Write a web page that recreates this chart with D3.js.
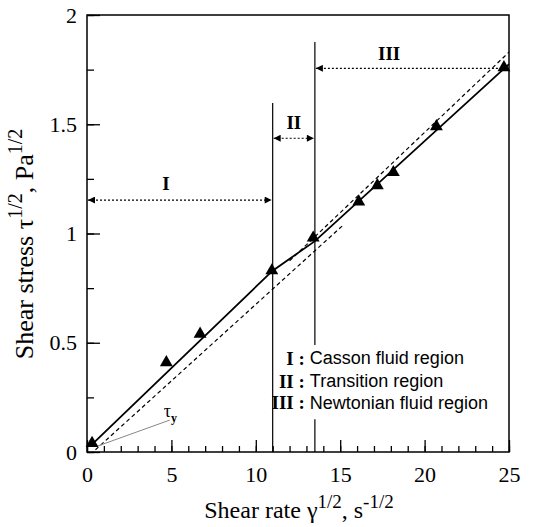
<!DOCTYPE html>
<html>
<head>
<meta charset="utf-8">
<script src="https://cdn.jsdelivr.net/npm/d3@7"></script>
<style>
  body { margin: 0; background: #fff; }
  svg { display: block; }
</style>
</head>
<body>
<div id="chart"></div>
<script>
// measured points (sqrt shear rate, sqrt shear stress)
const pointX = [0.3, 4.7, 6.7, 10.95, 13.4, 16.1, 17.2, 18.15, 20.7, 24.7];
const pointY = [0.04, 0.41, 0.54, 0.83, 0.98, 1.145, 1.22, 1.28, 1.49, 1.76];

// solid fitted curve (broken line)
const fitX = [0.3, 11, 13.5, 25];
const fitY = [0.035, 0.83, 0.965, 1.775];

// dashed model lines
const cassonX = [0.5, 15.2];
const cassonY = [0.01, 1.04];
const newtonX = [12, 25];
const newtonY = [0.875, 1.83];

// region boundaries and arrows
const bounds = [11, 13.5];
const regionNames = ["I", "II", "III"];
const regionFrom = [0, 11, 13.5];
const regionTo = [11, 13.5, 25];
const regionArrowY = [1.153, 1.436, 1.756];
const regionLabelX = [4.68, 12.25, 17.9];
const regionLabelY = [1.23, 1.51, 1.826];
const legendText = ["Casson fluid region", "Transition region", "Newtonian fluid region"];

const xTicks = [0, 5, 10, 15, 20, 25];
const yTicks = [0, 0.5, 1, 1.5, 2];
const yTickLabels = ["0", "0.5", "1", "1.5", "2"];

const width = 542, height = 527;
const marginTop = 15, marginRight = 33, marginBottom = 75, marginLeft = 87;
const serif = "'Liberation Serif', 'Times New Roman', serif";
const sans = "'Liberation Sans', Arial, sans-serif";

const x = d3.scaleLinear().domain([0, 25]).range([marginLeft, width - marginRight]);
const y = d3.scaleLinear().domain([0, 2]).range([height - marginBottom, marginTop]);

const svg = d3.select("#chart").append("svg")
    .attr("width", width)
    .attr("height", height);

const defs = svg.append("defs");
defs.append("marker")
    .attr("id", "head")
    .attr("viewBox", "0 0 10 10")
    .attr("refX", 10).attr("refY", 5)
    .attr("markerWidth", 8).attr("markerHeight", 7)
    .attr("markerUnits", "userSpaceOnUse")
    .attr("orient", "auto-start-reverse")
    .append("path")
    .attr("d", "M0,0L10,5L0,10Z")
    .attr("fill", "#000");

// ticks (inward)
const xMinor = d3.range(0, 26, 1);
const yMinor = d3.range(0, 2.01, 0.25);

svg.append("g")
    .attr("transform", `translate(0,${y(0)})`)
    .call(d3.axisBottom(x).tickValues(xMinor).tickSize(-6).tickFormat(""))
    .call(g => g.select(".domain").remove())
    .selectAll("line").attr("stroke-width", 1.3);

svg.append("g")
    .attr("transform", `translate(0,${y(0)})`)
    .call(d3.axisBottom(x).tickValues(xTicks).tickSize(-12).tickPadding(14))
    .call(g => g.select(".domain").remove())
    .call(g => g.selectAll("line").attr("stroke-width", 1.3))
    .call(g => g.selectAll("text")
        .attr("font-family", serif).attr("font-size", 22).attr("fill", "#000"));

svg.append("g")
    .attr("transform", `translate(${x(0)},0)`)
    .call(d3.axisLeft(y).tickValues(yMinor).tickSize(-7).tickFormat(""))
    .call(g => g.select(".domain").remove())
    .selectAll("line").attr("stroke-width", 1.3);

svg.append("g")
    .attr("transform", `translate(${x(0)},0)`)
    .call(d3.axisLeft(y).tickValues(yTicks).tickSize(-13).tickPadding(10)
        .tickFormat((d, i) => yTickLabels[i]))
    .call(g => g.select(".domain").remove())
    .call(g => g.selectAll("line").attr("stroke-width", 1.3))
    .call(g => g.selectAll("text")
        .attr("font-family", serif).attr("font-size", 22).attr("fill", "#000"));

// frame
svg.append("rect")
    .attr("x", x(0)).attr("y", y(2))
    .attr("width", x(25) - x(0)).attr("height", y(0) - y(2))
    .attr("fill", "none").attr("stroke", "#000").attr("stroke-width", 1.5);

// region boundaries
svg.append("line")
    .attr("x1", x(bounds[0])).attr("x2", x(bounds[0]))
    .attr("y1", y(1.597)).attr("y2", y(0))
    .attr("stroke", "#000").attr("stroke-width", 1.2);
svg.append("line")
    .attr("x1", x(bounds[1])).attr("x2", x(bounds[1]))
    .attr("y1", y(1.876)).attr("y2", y(0.49))
    .attr("stroke", "#000").attr("stroke-width", 1.2);
svg.append("line")
    .attr("x1", x(bounds[1])).attr("x2", x(bounds[1]))
    .attr("y1", y(0.15)).attr("y2", y(0))
    .attr("stroke", "#000").attr("stroke-width", 1.2);

// region arrows
regionNames.forEach((name, i) => {
    svg.append("line")
        .attr("x1", x(regionFrom[i]) + 1).attr("x2", x(regionTo[i]) - 1)
        .attr("y1", y(regionArrowY[i])).attr("y2", y(regionArrowY[i]))
        .attr("stroke", "#000").attr("stroke-width", 1.2)
        .attr("stroke-dasharray", "2,2")
        .attr("marker-start", "url(#head)")
        .attr("marker-end", "url(#head)");
    svg.append("text")
        .attr("x", x(regionLabelX[i])).attr("y", y(regionLabelY[i]))
        .attr("dy", "0.35em")
        .attr("text-anchor", "middle")
        .attr("font-family", serif).attr("font-weight", "bold").attr("font-size", 19)
        .text(name);
});

// lines
const line = d3.line().x(d => x(d[0])).y(d => y(d[1]));

svg.append("path")
    .datum(d3.zip(cassonX, cassonY))
    .attr("fill", "none").attr("stroke", "#000").attr("stroke-width", 1.2)
    .attr("stroke-dasharray", "4,3")
    .attr("d", line);

svg.append("path")
    .datum(d3.zip(newtonX, newtonY))
    .attr("fill", "none").attr("stroke", "#000").attr("stroke-width", 1.2)
    .attr("stroke-dasharray", "4,3")
    .attr("d", line);

svg.append("path")
    .datum(d3.zip(fitX, fitY))
    .attr("fill", "none").attr("stroke", "#000").attr("stroke-width", 1.8)
    .attr("d", line);

// yield stress pointer
svg.append("line")
    .attr("x1", x(0.55)).attr("y1", y(0.025))
    .attr("x2", x(4.9)).attr("y2", y(0.146))
    .attr("stroke", "#888").attr("stroke-width", 1);
const tau = svg.append("text")
    .attr("x", x(4.55)).attr("y", y(0.16))
    .attr("font-family", serif).attr("font-size", 18);
tau.append("tspan").text("τ");
tau.append("tspan").attr("font-size", 12).attr("dy", 5).attr("font-weight", "bold").text("y");

// points
svg.selectAll(".pt")
    .data(d3.zip(pointX, pointY))
    .join("path")
    .attr("class", "pt")
    .attr("transform", d => `translate(${x(d[0])},${y(d[1])})`)
    .attr("d", d3.symbol(d3.symbolTriangle, 72))
    .attr("fill", "#000");

// legend
const legendY = [0.43, 0.325, 0.225];
legendText.forEach((t, i) => {
    svg.append("text")
        .attr("x", x(12.9)).attr("y", y(legendY[i]))
        .attr("dy", "0.35em").attr("text-anchor", "end")
        .attr("font-family", serif).attr("font-weight", "bold").attr("font-size", 19)
        .text(regionNames[i] + " :");
    svg.append("text")
        .attr("x", x(13.2)).attr("y", y(legendY[i]))
        .attr("dy", "0.35em")
        .attr("font-family", sans).attr("font-size", 18)
        .text(t);
});

// axis titles
const xt = svg.append("text")
    .attr("x", (x(0) + x(25)) / 2 + 1).attr("y", height - 9)
    .attr("text-anchor", "middle")
    .attr("font-family", serif).attr("font-size", 24);
xt.append("tspan").text("Shear rate γ");
xt.append("tspan").attr("font-size", 19).attr("dy", -10).text("1/2");
xt.append("tspan").attr("dy", 10).text(", s");
xt.append("tspan").attr("font-size", 19).attr("dy", -10).text("-1/2");

const yt = svg.append("text")
    .attr("transform", `translate(33,244) rotate(-90)`)
    .attr("text-anchor", "middle")
    .attr("font-family", serif).attr("font-size", 26);
yt.append("tspan").text("Shear stress τ");
yt.append("tspan").attr("font-size", 20).attr("dy", -11).text("1/2");
yt.append("tspan").attr("dy", 11).text(", Pa");
yt.append("tspan").attr("font-size", 20).attr("dy", -11).text("1/2");
</script>
</body>
</html>
